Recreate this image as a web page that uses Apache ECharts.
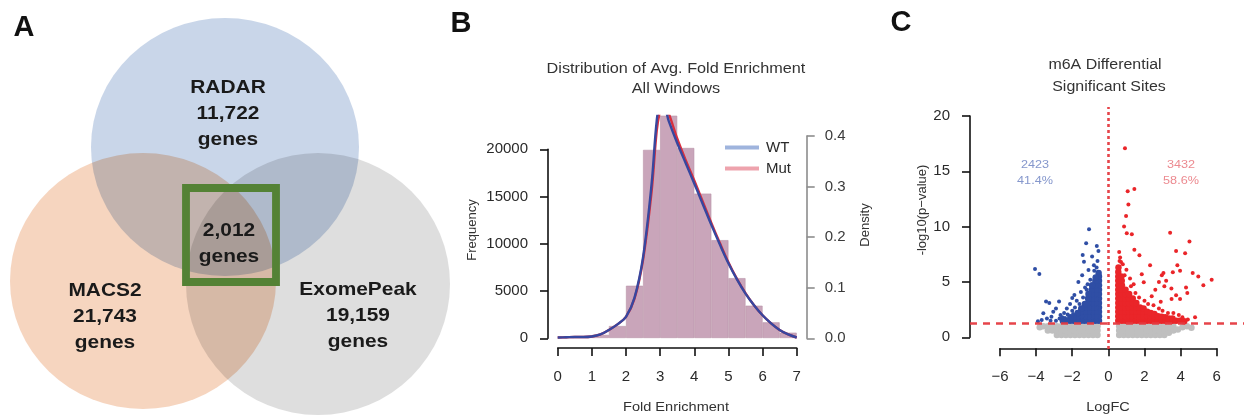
<!DOCTYPE html>
<html>
<head>
<meta charset="utf-8">
<script src="https://cdn.jsdelivr.net/npm/echarts@6/dist/echarts.min.js"></script>
<style>
  html, body { margin: 0; padding: 0; background: #fff; }
  #chart { width: 1244px; height: 419px; }
</style>
</head>
<body>
<div id="chart"></div>
<script>
// ---- A: venn of peak callers ----
const vennSets = ['RADAR', 'MACS2', 'ExomePeak'];
const vennGenes = [11722, 21743, 19159];
const vennShared = 2012;

// ---- B: fold enrichment histogram (bin width 0.5) + density ----
const binMids = [0.25, 0.75, 1.25, 1.75, 2.25, 2.75, 3.25, 3.75, 4.25, 4.75, 5.25, 5.75, 6.25, 6.75];
const binCounts = [60, 120, 330, 1260, 5500, 19800, 23500, 20000, 15200, 10300, 6300, 3400, 1650, 560];
const densX = [0, 0.25, 0.5, 0.75, 1, 1.25, 1.5, 1.75, 2, 2.25, 2.5, 2.75, 2.9, 3, 3.1, 3.25, 3.5, 3.75, 4, 4.25, 4.5, 4.75, 5, 5.25, 5.5, 5.75, 6, 6.25, 6.5, 6.75, 7];
const densWT = [0.001, 0.0015, 0.002, 0.002, 0.003, 0.007, 0.016, 0.027, 0.042, 0.08, 0.16, 0.305, 0.43, 0.46, 0.46, 0.43, 0.386, 0.346, 0.306, 0.265, 0.224, 0.185, 0.148, 0.116, 0.088, 0.065, 0.045, 0.029, 0.016, 0.007, 0.001];
const densMut = [0.001, 0.0015, 0.002, 0.002, 0.003, 0.007, 0.016, 0.027, 0.042, 0.078, 0.155, 0.29, 0.41, 0.45, 0.465, 0.445, 0.395, 0.352, 0.312, 0.27, 0.228, 0.188, 0.15, 0.117, 0.089, 0.065, 0.045, 0.029, 0.016, 0.007, 0.001];

// ---- C: volcano (LogFC, -log10 p) ----
const pCut = 0.05;
const downCount = 2423;
const upCount = 3432;
// dense bulk of the significant sites
const downCore = [
  [-0.52,1.5],[-0.52,1.9],[-0.52,2.3],[-0.52,2.7],[-0.52,3.1],[-0.52,3.5],[-0.52,3.9],[-0.52,4.3],[-0.52,4.7],[-0.52,5.1],[-0.52,5.5],[-0.54,5.8],
  [-0.72,1.5],[-0.72,1.9],[-0.72,2.3],[-0.72,2.7],[-0.72,3.1],[-0.72,3.5],[-0.72,3.9],[-0.72,4.3],[-0.72,4.7],[-0.72,5.1],[-0.7,5.4],
  [-0.92,1.5],[-0.92,1.9],[-0.92,2.3],[-0.92,2.7],[-0.92,3.1],[-0.92,3.5],[-0.92,3.9],[-0.92,4.3],[-0.9,4.7],
  [-1.12,1.5],[-1.12,1.9],[-1.12,2.3],[-1.12,2.7],[-1.12,3.1],[-1.12,3.5],[-1.1,3.9],
  [-1.32,1.5],[-1.32,1.9],[-1.32,2.3],[-1.32,2.7],[-1.3,3.0],
  [-1.52,1.5],[-1.52,1.9],[-1.52,2.3],[-1.5,2.6],
  [-1.72,1.5],[-1.72,1.9],[-1.7,2.2],
  [-1.92,1.5],[-1.92,1.8],[-2.12,1.5],[-2.1,1.8],[-2.32,1.5],[-2.52,1.5]
];
const downSparse = [
  [-1.07,9.76],[-1.23,8.5],[-0.64,8.25],[-1.42,7.43],[-4.06,6.17],[-3.82,5.72],[-1.35,6.83],[-1.1,6.08],
  [-1.66,5.0],[-3.45,3.22],[-3.27,3.1],[-2.73,3.22],[-1.88,3.82],[-1.52,4.1],[-2.12,3.0],[-3.6,2.17],
  [-3.05,2.3],[-2.3,2.6],[-3.69,1.56],[-3.4,1.7],[-3.15,1.86],[-2.65,2.0],[-1.75,3.3],[-2.0,3.55],
  [-1.29,4.5],[-1.0,5.2],[-0.9,7.3],[-0.8,6.5],[-0.6,6.9],[-0.55,7.8],[-1.45,5.6],[-2.9,1.5],
  [-2.7,1.7],[-2.45,2.2],[-2.0,2.4],[-1.6,3.0],[-1.4,3.6],[-1.2,4.3],[-0.78,6.0],[-3.9,1.45],
  [-2.9,2.6],[-2.55,1.8],[-2.25,2.05],[-1.85,2.7],[-1.15,4.8],[-0.65,6.3],[-3.2,1.5],[-2.4,1.75],[-1.95,2.1]
];
const upCore = [
  [0.55,1.5],[0.55,1.9],[0.55,2.3],[0.55,2.7],[0.55,3.1],[0.55,3.5],[0.55,3.9],[0.55,4.3],[0.55,4.7],[0.55,5.1],[0.55,5.5],[0.55,5.9],[0.56,6.3],
  [0.75,1.5],[0.75,1.9],[0.75,2.3],[0.75,2.7],[0.75,3.1],[0.75,3.5],[0.75,3.9],[0.75,4.3],[0.75,4.7],[0.74,5.1],[0.72,5.5],
  [0.95,1.5],[0.95,1.9],[0.95,2.3],[0.95,2.7],[0.95,3.1],[0.95,3.5],[0.95,3.9],[0.95,4.3],
  [1.15,1.5],[1.15,1.9],[1.15,2.3],[1.15,2.7],[1.15,3.1],[1.15,3.5],[1.15,3.9],
  [1.35,1.5],[1.35,1.9],[1.35,2.3],[1.35,2.7],[1.35,3.1],[1.35,3.5],
  [1.55,1.5],[1.55,1.9],[1.55,2.3],[1.55,2.7],[1.55,3.1],
  [1.75,1.5],[1.75,1.9],[1.75,2.3],[1.75,2.7],
  [1.95,1.5],[1.95,1.9],[1.95,2.3],[1.95,2.6],
  [2.15,1.5],[2.15,1.9],[2.15,2.3],[2.35,1.5],[2.35,1.9],[2.35,2.2],
  [2.55,1.5],[2.55,1.9],[2.55,2.1],[2.75,1.5],[2.75,1.9],[2.95,1.5],[2.95,1.85],
  [3.15,1.5],[3.15,1.8],[3.35,1.5],[3.35,1.7],[3.55,1.5],[3.55,1.7],[3.75,1.5],[3.95,1.5],[4.2,1.45]
];
const upSparse = [
  [0.92,17.07],[1.07,13.2],[1.44,13.4],[1.11,12.0],[0.98,10.96],[0.87,10.0],[1.02,9.4],[1.3,9.3],
  [3.42,9.45],[4.49,8.64],[1.44,7.9],[3.75,7.8],[4.25,7.6],[1.72,7.4],[2.31,6.5],[3.82,6.5],
  [3.97,6.0],[4.67,5.8],[3.05,5.8],[2.96,5.6],[3.57,5.87],[1.85,5.7],[4.98,5.5],[5.72,5.2],
  [5.26,4.7],[2.8,5.0],[3.2,5.1],[1.96,4.96],[4.3,4.5],[3.49,4.4],[4.37,4.0],[2.6,4.3],
  [3.75,3.8],[3.97,3.46],[4.8,1.8],[3.5,3.45],[3.1,4.6],[0.6,7.7],[0.65,7.2],[0.7,6.8],
  [0.8,6.6],[0.62,6.9],[1.0,6.1],[1.2,5.3],[1.25,4.6],[1.5,4.0],[1.7,3.6],[2.0,3.3],
  [2.2,3.0],[2.5,2.9],[2.8,2.6],[3.0,2.4],[3.3,2.2],[3.6,2.2],[3.9,2.0],[4.1,1.8],
  [4.4,1.6],[2.4,3.7],[2.9,3.2],[1.4,4.8],[0.9,5.6]
];
const sitesNS = [
  [-3.8,0.9],[-3.6,1.0],[-3.35,0.6],[-3.35,1.0],[-3.1,0.6],[-3.1,1.0],[-2.85,0.2],[-2.85,0.6],[-2.85,1.0],
  [-2.6,0.2],[-2.6,0.6],[-2.6,1.0],[-2.35,0.2],[-2.35,0.6],[-2.35,1.0],[-2.1,0.2],[-2.1,0.6],[-2.1,1.0],
  [-1.85,0.2],[-1.85,0.6],[-1.85,1.0],[-1.6,0.2],[-1.6,0.6],[-1.6,1.0],[-1.35,0.2],[-1.35,0.6],[-1.35,1.0],
  [-1.1,0.2],[-1.1,0.6],[-1.1,1.0],[-0.85,0.2],[-0.85,0.6],[-0.85,1.0],[-0.6,0.2],[-0.6,0.6],[-0.6,1.0],
  [0.6,0.2],[0.6,0.6],[0.6,1.0],[0.85,0.2],[0.85,0.6],[0.85,1.0],[1.1,0.2],[1.1,0.6],[1.1,1.0],
  [1.35,0.2],[1.35,0.6],[1.35,1.0],[1.6,0.2],[1.6,0.6],[1.6,1.0],[1.85,0.2],[1.85,0.6],[1.85,1.0],
  [2.1,0.2],[2.1,0.6],[2.1,1.0],[2.35,0.2],[2.35,0.6],[2.35,1.0],[2.6,0.2],[2.6,0.6],[2.6,1.0],
  [2.85,0.2],[2.85,0.6],[2.85,1.0],[3.1,0.2],[3.1,0.6],[3.1,1.0],[3.35,0.4],[3.35,0.9],
  [3.6,0.6],[3.6,1.0],[3.85,0.7],[4.1,0.9],[4.35,1.0],[4.6,0.85]
];

// layout of panel A in its own pixel-like data space
const vennLayout = {
  centers: [[225, 147], [143, 281], [318, 284]],
  sizes: [[268, 258], [266, 256], [264, 262]],
  colors: ['#c9d6e9', '#f6d5bf', '#dedede'],
  labels: [[228, 114], [105, 317], [358, 316]],
  shared: [229, 244],
  box: [231, 235], boxSize: [90, 94]
};

const chart = echarts.init(document.getElementById('chart'));
const FONT = '"Liberation Sans", Arial, sans-serif';
const ink = '#1e1e1e';

function shownAxis(o) {
  return Object.assign({
    type: 'value',
    axisLine: { show: true, onZero: false, lineStyle: { color: '#111', width: 1.6 } },
    axisTick: { show: true, length: 8, lineStyle: { color: '#111', width: 1.6 } },
    axisLabel: { margin: 20, fontFamily: FONT, fontSize: 15, color: '#2a2a2a', showMinLabel: true, showMaxLabel: true, hideOverlap: false, formatter: v => String(v) },
    splitLine: { show: false }
  }, o);
}
function hiddenAxis(o) {
  return Object.assign({ type: 'value', show: false, splitLine: { show: false } }, o);
}
const minus = v => String(v).replace('-', '\u2212');

const fmt = n => n.toLocaleString('en-US');
const pct = n => (100 * n / (downCount + upCount)).toFixed(1) + '%';

function txt(text, x, y, opt) {
  opt = opt || {};
  return {
    type: 'text', x: x, y: y, rotation: opt.rot || 0, scaleX: opt.sx || 1, silent: true, z: 50,
    style: {
      text: text, fill: opt.color || ink, textAlign: 'center', textVerticalAlign: 'middle',
      font: (opt.weight || 'normal') + ' ' + (opt.size || 14) + 'px ' + FONT,
      lineHeight: opt.lh || undefined
    }
  };
}
function volcano(data, color, size) {
  return {
    type: 'scatter', xAxisIndex: 5, yAxisIndex: 6, silent: true, symbolSize: size, data: data,
    itemStyle: { color: color, opacity: 1, borderWidth: 0 }
  };
}

const option = {
  backgroundColor: '#ffffff',
  animation: false,
  grid: [
    { left: 0, top: 0, width: 430, height: 419 },              // A
    { left: 557.7, top: 116, width: 239, height: 222 },        // B data
    { left: 557.7, top: 200, width: 239, height: 148 },        // B x axis
    { left: 548, top: 149.3, width: 100, height: 189 },        // B frequency axis
    { left: 706.7, top: 136, width: 100, height: 202.3 },      // B density axis
    { left: 970, top: 107, width: 274, height: 242 },          // C data
    { left: 970, top: 116, width: 100, height: 221.3 },        // C y axis
    { left: 1000, top: 250, width: 216.7, height: 98.3 }       // C x axis
  ].map(g => Object.assign({ outerBoundsMode: 'none', containLabel: false, show: false }, g)),
  xAxis: [
    hiddenAxis({ gridIndex: 0, min: 0, max: 430 }),
    hiddenAxis({ gridIndex: 1, min: 0, max: 7 }),
    shownAxis({ gridIndex: 2, min: 0, max: 7, interval: 1, position: 'bottom', axisLabel: { margin: 21, fontFamily: FONT, fontSize: 15, color: '#2a2a2a' } }),
    hiddenAxis({ gridIndex: 3, min: 0, max: 1 }),
    hiddenAxis({ gridIndex: 4, min: 0, max: 1 }),
    hiddenAxis({ gridIndex: 5, min: -7.66, max: 7.51 }),
    hiddenAxis({ gridIndex: 6, min: 0, max: 1 }),
    shownAxis({ gridIndex: 7, min: -6, max: 6, interval: 2, position: 'bottom',
      axisLabel: { margin: 21, fontFamily: FONT, fontSize: 15, color: '#2a2a2a', formatter: minus } })
  ],
  yAxis: [
    hiddenAxis({ gridIndex: 0, min: 0, max: 419, inverse: true }),
    hiddenAxis({ gridIndex: 1, min: 0, max: 23368 }),
    hiddenAxis({ gridIndex: 1, min: 0, max: 0.4396 }),
    hiddenAxis({ gridIndex: 2, min: 0, max: 1 }),
    shownAxis({ gridIndex: 3, min: 0, max: 20000, interval: 5000, position: 'left' }),
    shownAxis({ gridIndex: 4, min: 0, max: 0.4, interval: 0.1, position: 'right',
      axisLine: { show: true, onZero: false, lineStyle: { color: '#8c8c8c', width: 1.6 } },
      axisTick: { show: true, length: 8, lineStyle: { color: '#8c8c8c', width: 1.6 } },
      axisLabel: { margin: 18, fontFamily: FONT, fontSize: 15, color: '#3a3a3a', formatter: v => v.toFixed(1) } }),
    hiddenAxis({ gridIndex: 5, min: -1.06, max: 20.8 }),
    shownAxis({ gridIndex: 6, min: 0, max: 20, interval: 5, position: 'left' }),
    hiddenAxis({ gridIndex: 7, min: 0, max: 1 })
  ],
  legend: {
    orient: 'vertical', left: 720, top: 135, itemWidth: 34, itemHeight: 4, itemGap: 6,
    icon: 'rect', selectedMode: false,
    textStyle: { fontFamily: FONT, fontSize: 15, color: '#2a2a2a', lineHeight: 14, padding: [0, 0, 0, 2] },
    data: [
      { name: 'WT', itemStyle: { color: '#9fb4dd' } },
      { name: 'Mut', itemStyle: { color: '#eea3ad' } }
    ]
  },
  series: [
    // A circles, multiplied like the original overlapping fills
    {
      type: 'scatter', xAxisIndex: 0, yAxisIndex: 0, silent: true, blendMode: 'multiply',
      data: vennSets.map((s, i) => ({
        name: s, value: vennLayout.centers[i], symbolSize: vennLayout.sizes[i],
        itemStyle: { color: vennLayout.colors[i], opacity: 1 }
      }))
    },
    {
      type: 'scatter', xAxisIndex: 0, yAxisIndex: 0, silent: true, symbol: 'rect', z: 5,
      data: [{ value: vennLayout.box, symbolSize: vennLayout.boxSize }],
      itemStyle: { color: 'rgba(0,0,0,0)', borderColor: '#548235', borderWidth: 8, opacity: 1 }
    },
    // B histogram + density curves
    {
      type: 'bar', xAxisIndex: 1, yAxisIndex: 1, silent: true, barWidth: 17.07, clip: true,
      data: binMids.map((m, i) => [m, binCounts[i]]),
      itemStyle: { color: '#c9a5ba', borderColor: '#b993a8', borderWidth: 0.6 }
    },
    {
      name: 'Mut', type: 'line', xAxisIndex: 1, yAxisIndex: 2, smooth: 0.35, showSymbol: false, symbol: 'none', clip: true, silent: true,
      data: densX.map((x, i) => [x, densMut[i]]), lineStyle: { color: '#d8303f', width: 2.4 }, itemStyle: { color: '#d8303f' }
    },
    {
      name: 'WT', type: 'line', xAxisIndex: 1, yAxisIndex: 2, smooth: 0.35, showSymbol: false, symbol: 'none', clip: true, silent: true,
      data: densX.map((x, i) => [x, densWT[i]]), lineStyle: { color: '#37479f', width: 2.4 }, itemStyle: { color: '#37479f' }
    },
    // C volcano
    volcano(sitesNS, '#bfbfbf', 6.5),
    volcano(downCore, '#2f4ea5', 6.5),
    volcano(downSparse, '#2f4ea5', 4),
    volcano(upCore, '#ea2529', 6.5),
    Object.assign(volcano(upSparse, '#ea2529', 4), {
      markLine: {
        silent: true, symbol: 'none', label: { show: false }, z: 20,
        lineStyle: { color: '#e53a40', width: 2.6, type: [7, 6], opacity: 0.95 },
        data: [
          { yAxis: -Math.log10(pCut) },
          { xAxis: 0, lineStyle: { color: '#e53a40', width: 2.6, type: [3, 3] } }
        ]
      }
    })
  ],
  graphic: [
    txt('A', 24, 28, { size: 29, weight: 'bold', color: '#111' }),
    txt('B', 461, 24, { size: 29, weight: 'bold', color: '#111' }),
    txt('C', 901, 23, { size: 29, weight: 'bold', color: '#111' }),
    ...vennSets.map((s, i) => txt(s + '\n' + fmt(vennGenes[i]) + '\ngenes', vennLayout.labels[i][0], vennLayout.labels[i][1],
      { size: 19, weight: 'bold', lh: 26, sx: 1.1, color: '#1a1a1a' })),
    txt(fmt(vennShared) + '\ngenes', vennLayout.shared[0], vennLayout.shared[1], { size: 19, weight: 'bold', lh: 26, sx: 1.1, color: '#1a1a1a' }),
    txt('Distribution of Avg. Fold Enrichment', 676, 69, { size: 14, sx: 1.16, color: '#333' }),
    txt('All Windows', 676, 89, { size: 14, sx: 1.16, color: '#333' }),
    txt('Frequency', 472, 230, { size: 13, rot: Math.PI / 2, color: '#333' }),
    txt('Density', 865, 225, { size: 13, rot: Math.PI / 2, color: '#333' }),
    txt('Fold Enrichment', 676, 407, { size: 13, sx: 1.12, color: '#333' }),
    txt('m6A Differential', 1105, 65, { size: 14, sx: 1.14, color: '#333' }),
    txt('Significant Sites', 1109, 87, { size: 14, sx: 1.14, color: '#333' }),
    txt('-log10(p\u2212value)', 922, 210, { size: 13, rot: Math.PI / 2, color: '#333' }),
    txt('LogFC', 1108, 407, { size: 13, sx: 1.12, color: '#333' }),
    txt(String(downCount) + '\n' + pct(downCount), 1035, 173, { size: 11.5, lh: 16, sx: 1.1, color: '#8597cc' }),
    txt(String(upCount) + '\n' + pct(upCount), 1181, 173, { size: 11.5, lh: 16, sx: 1.1, color: '#ec8a90' })
  ]
};
chart.setOption(option);
</script>
</body>
</html>
